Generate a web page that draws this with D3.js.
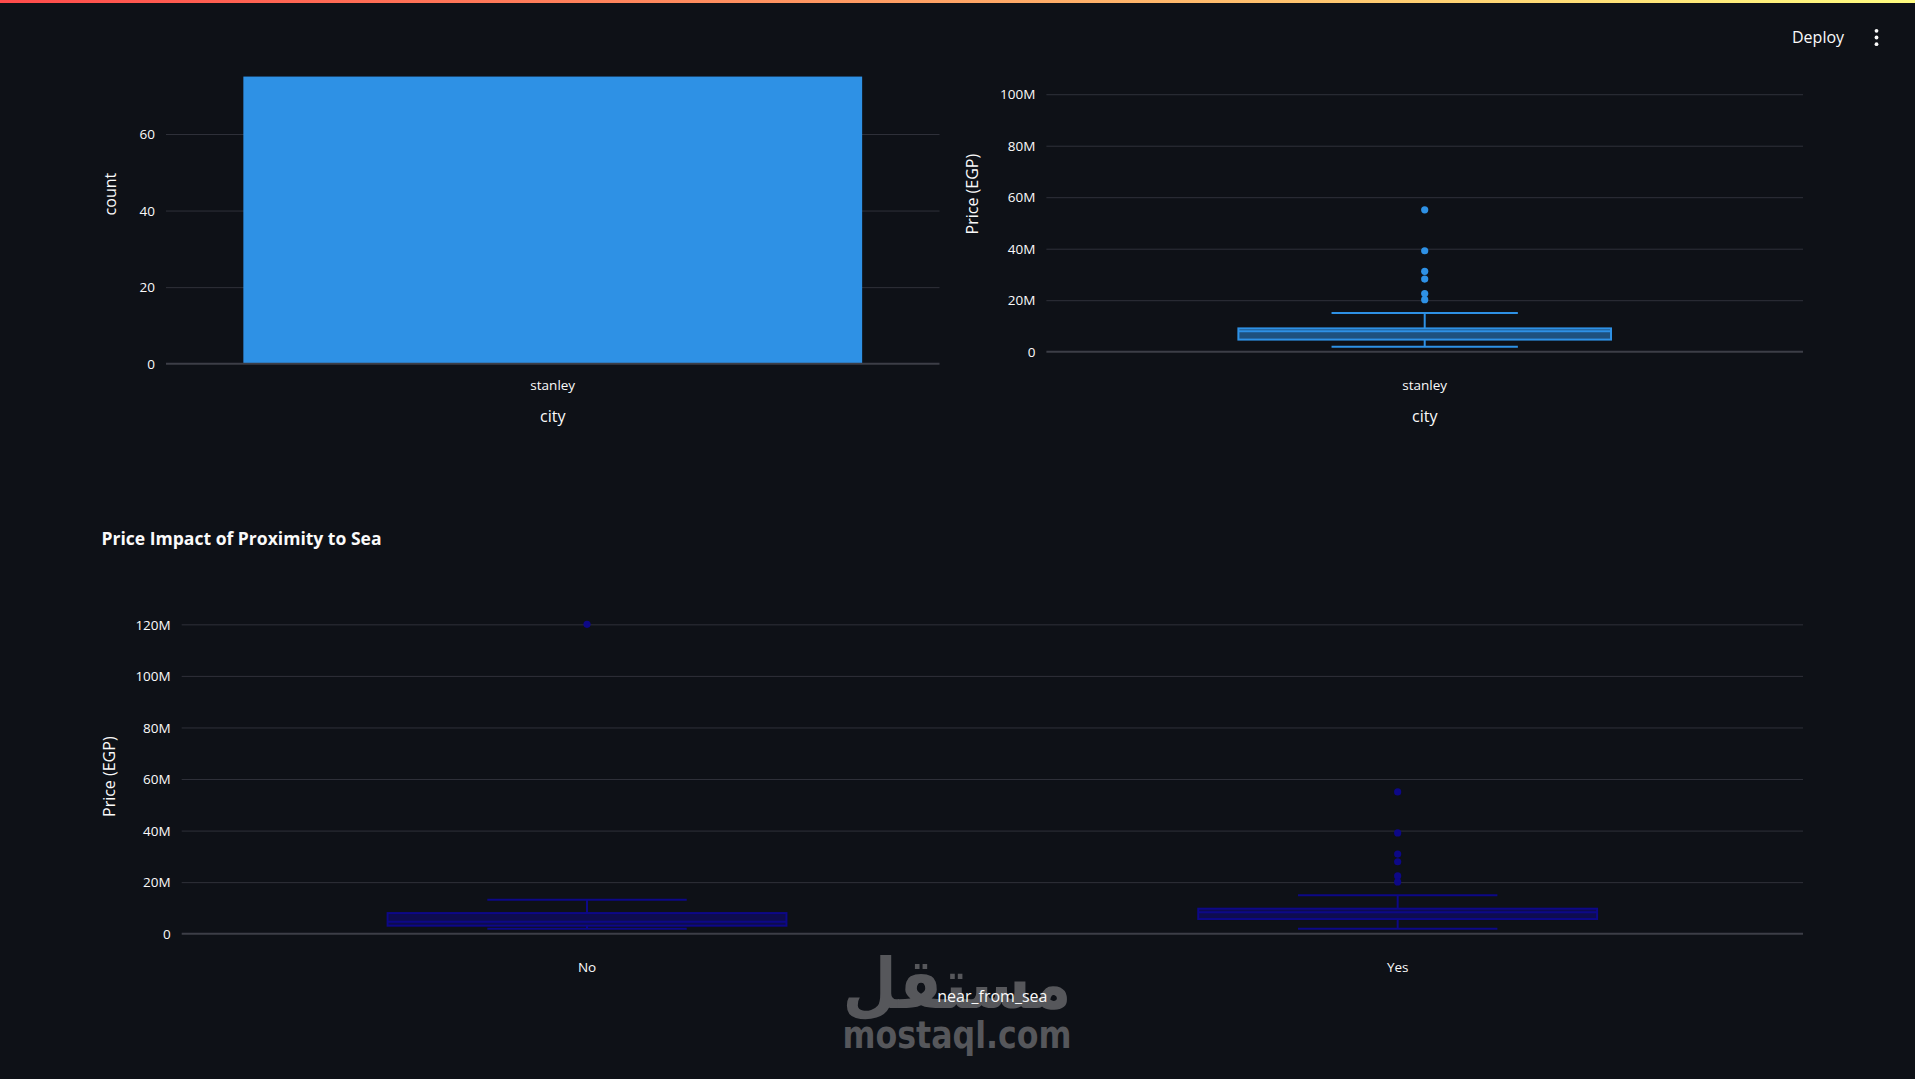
<!DOCTYPE html>
<html>
<head>
<meta charset="utf-8">
<script src="https://cdn.jsdelivr.net/npm/d3@7"></script>
<style>
  html, body { margin: 0; padding: 0; background: #0e1117; overflow: hidden; }
  svg { display: block; }
</style>
</head>
<body>
<svg id="chart" width="1915" height="1079"></svg>
<script>
// ---------------- DATA ----------------
const cityCategories = ["stanley"];
const cityCounts = [75];
const countTicks = [0, 20, 40, 60];

// box stats (millions EGP)
const cityLow = [1.9];
const cityQ1 = [4.7];
const cityMedian = [7.9];
const cityQ3 = [9.05];
const cityHigh = [15.0];
const cityOutliers = [[55.1, 39.2, 31.2, 28.2, 22.6, 20.2]];

const seaCategories = ["No", "Yes"];
const seaLow = [1.9, 1.9];
const seaQ1 = [3.1, 5.7];
const seaMedian = [4.6, 8.3];
const seaQ3 = [8.0, 9.7];
const seaHigh = [13.2, 14.9];
const seaOutliers = [[120], [55.0, 39.1, 30.9, 27.9, 22.4, 20.1]];

const priceTicks = [0, 20, 40, 60, 80, 100, 120]; // millions

// ---------------- STYLE ----------------
const BG = "#0e1117";
const GRID = "#2f313a";
const ZERO = "#3c3e47";
const TEXT = "#fafafa";
const FONT = "'Open Sans', Lato, sans-serif";
const BLUE = "#2E91E5";
const NAVY = "#0d0887";
const M = 1e6;

const svg = d3.select("#chart");
svg.append("rect").attr("width", 1915).attr("height", 1079).attr("fill", BG);

const fmtPrice = d => d === 0 ? "0" : (d / M) + "M";

function yGrid(g, y, ticks, x0, x1, fmt) {
  const axis = d3.axisLeft(y).tickValues(ticks).tickSize(-(x1 - x0)).tickPadding(11).tickFormat(fmt);
  const ag = g.append("g").attr("transform", `translate(${x0},0)`).call(axis);
  ag.select(".domain").remove();
  ag.selectAll(".tick line").attr("stroke", GRID).attr("stroke-width", 1)
    .attr("stroke-opacity", d => d === 0 ? 0 : 1);
  ag.selectAll(".tick text").attr("fill", TEXT).attr("font-family", FONT)
    .attr("font-size", 13.5).attr("dy", "0.35em");
  return ag;
}
function zeroLine(g, y, x0, x1) {
  g.append("line").attr("x1", x0).attr("x2", x1).attr("y1", y(0)).attr("y2", y(0))
    .attr("stroke", ZERO).attr("stroke-width", 2);
}
function xLabels(g, x, yPos, titleY, title) {
  const axis = d3.axisBottom(x).tickSize(0).tickPadding(0);
  const ag = g.append("g").attr("transform", `translate(0,${yPos})`).call(axis);
  ag.select(".domain").remove();
  ag.selectAll(".tick text").attr("fill", TEXT).attr("font-family", FONT)
    .attr("font-size", 13.5).attr("dy", "0.35em").attr("y", 0);
  g.append("text").attr("x", (x.range()[0] + x.range()[1]) / 2).attr("y", titleY)
    .attr("dy", "0.35em").attr("text-anchor", "middle").attr("fill", TEXT)
    .attr("font-family", FONT).attr("font-size", 16).text(title);
}
function yTitle(g, xPos, yc, title) {
  g.append("text").attr("transform", `translate(${xPos},${yc}) rotate(-90)`)
    .attr("dy", "0.35em").attr("text-anchor", "middle").attr("fill", TEXT)
    .attr("font-family", FONT).attr("font-size", 16).text(title);
}
function drawBox(g, cx, bw, y, low, q1, med, q3, high, outl, color, fill) {
  const capW = bw / 2;
  const s = 2;
  g.append("line").attr("x1", cx).attr("x2", cx).attr("y1", y(high * M)).attr("y2", y(q3 * M))
    .attr("stroke", color).attr("stroke-width", s);
  g.append("line").attr("x1", cx).attr("x2", cx).attr("y1", y(q1 * M)).attr("y2", y(low * M))
    .attr("stroke", color).attr("stroke-width", s);
  [high, low].forEach(v => g.append("line").attr("x1", cx - capW / 2).attr("x2", cx + capW / 2)
    .attr("y1", y(v * M)).attr("y2", y(v * M)).attr("stroke", color).attr("stroke-width", s));
  g.append("rect").attr("x", cx - bw / 2).attr("width", bw)
    .attr("y", y(q3 * M)).attr("height", y(q1 * M) - y(q3 * M))
    .attr("fill", fill).attr("stroke", color).attr("stroke-width", s);
  g.append("line").attr("x1", cx - bw / 2).attr("x2", cx + bw / 2)
    .attr("y1", y(med * M)).attr("y2", y(med * M)).attr("stroke", color).attr("stroke-width", s);
  g.selectAll(null).data(outl).enter().append("circle")
    .attr("cx", cx).attr("cy", d => y(d * M)).attr("r", 3.6).attr("fill", color);
}

// ---------------- CHART 1: count by city ----------------
{
  const g = svg.append("g");
  const x0 = 166, x1 = 939.5;
  const x = d3.scaleBand().domain(cityCategories).range([x0, x1]).paddingInner(0.2).paddingOuter(0.1);
  const y = d3.scaleLinear().domain([0, 88.6]).range([363.7, 24.5]);
  yGrid(g, y, countTicks, x0, x1, d3.format("d"));
  g.selectAll(".bar").data(cityCategories).enter().append("rect")
    .attr("x", d => x(d)).attr("width", x.bandwidth())
    .attr("y", (d, i) => y(cityCounts[i])).attr("height", (d, i) => y(0) - y(cityCounts[i]))
    .attr("fill", BLUE);
  zeroLine(g, y, x0, x1);
  const xl = d3.scaleBand().domain(cityCategories).range([x0, x1]);
  xLabels(g, xl, 385.7, 416, "city");
  yTitle(g, 110, 194.1, "count");
}

// ---------------- CHART 2: price by city ----------------
{
  const g = svg.append("g");
  const x0 = 1046.4, x1 = 1803;
  const x = d3.scaleBand().domain(cityCategories).range([x0, x1]);
  const y = d3.scaleLinear().domain([-4.66 * M, 127.07 * M]).range([363.7, 24.5]);
  yGrid(g, y, priceTicks.map(v => v * M), x0, x1, fmtPrice);
  zeroLine(g, y, x0, x1);
  cityCategories.forEach((c, i) => {
    drawBox(g, x(c) + x.bandwidth() / 2, x.bandwidth() * 0.4925, y,
      cityLow[i], cityQ1[i], cityMedian[i], cityQ3[i], cityHigh[i], cityOutliers[i],
      BLUE, "rgba(46,145,229,0.5)");
  });
  xLabels(g, x, 385.7, 416, "city");
  yTitle(g, 972, 194.1, "Price (EGP)");
}

// ---------------- Title ----------------
svg.append("text").attr("x", 101.5).attr("y", 539).attr("dy", "0.35em")
  .attr("fill", TEXT).attr("font-family", FONT).attr("font-weight", 700)
  .attr("font-size", 17.6).attr("textLength", 280).attr("lengthAdjust", "spacingAndGlyphs")
  .text("Price Impact of Proximity to Sea");

// ---------------- Watermark ----------------
{
  const wm = svg.append("g").attr("fill", "#56575b");
  wm.append("text").attr("x", 957).attr("y", 1008).attr("text-anchor", "middle")
    .attr("font-family", "'DejaVu Sans', sans-serif").attr("font-weight", 700)
    .attr("font-size", 70).attr("textLength", 229).attr("lengthAdjust", "spacingAndGlyphs")
    .attr("direction", "rtl")
    .text("مستقل");
  wm.append("text").attr("x", 957).attr("y", 1048.3).attr("text-anchor", "middle")
    .attr("font-family", "'DejaVu Sans', sans-serif").attr("font-weight", 700)
    .attr("font-size", 38).attr("textLength", 229).attr("lengthAdjust", "spacingAndGlyphs")
    .text("mostaql.com");
}

// ---------------- CHART 3: price by near_from_sea ----------------
{
  const g = svg.append("g");
  const x0 = 181.7, x1 = 1803;
  const x = d3.scaleBand().domain(seaCategories).range([x0, x1]);
  const y = d3.scaleLinear().domain([-4.5 * M, 126.3 * M]).range([945.3, 608.1]);
  yGrid(g, y, priceTicks.map(v => v * M), x0, x1, fmtPrice);
  zeroLine(g, y, x0, x1);
  seaCategories.forEach((c, i) => {
    drawBox(g, x(c) + x.bandwidth() / 2, x.bandwidth() * 0.492, y,
      seaLow[i], seaQ1[i], seaMedian[i], seaQ3[i], seaHigh[i], seaOutliers[i],
      NAVY, "rgba(13,8,135,0.5)");
  });
  xLabels(g, x, 967.3, 996, "near_from_sea");
  yTitle(g, 109.3, 776.7, "Price (EGP)");
}

// ---------------- Header ----------------
{
  const defs = svg.append("defs");
  const lg = defs.append("linearGradient").attr("id", "deco").attr("x1", "0%").attr("x2", "100%");
  lg.append("stop").attr("offset", "0%").attr("stop-color", "rgb(255,75,75)");
  lg.append("stop").attr("offset", "100%").attr("stop-color", "rgb(255,253,128)");
  svg.append("rect").attr("x", 0).attr("y", 0).attr("width", 1915).attr("height", 60).attr("fill", BG);
  svg.append("rect").attr("x", 0).attr("y", 0).attr("width", 1915).attr("height", 3).attr("fill", "url(#deco)");
  svg.append("text").attr("x", 1792).attr("y", 37.5).attr("dy", "0.35em")
    .attr("fill", TEXT).attr("font-family", FONT).attr("font-size", 16).text("Deploy");
  [30.8, 37.5, 44.2].forEach(cy => svg.append("circle").attr("cx", 1876.5).attr("cy", cy)
    .attr("r", 1.9).attr("fill", TEXT));
}
</script>
</body>
</html>
